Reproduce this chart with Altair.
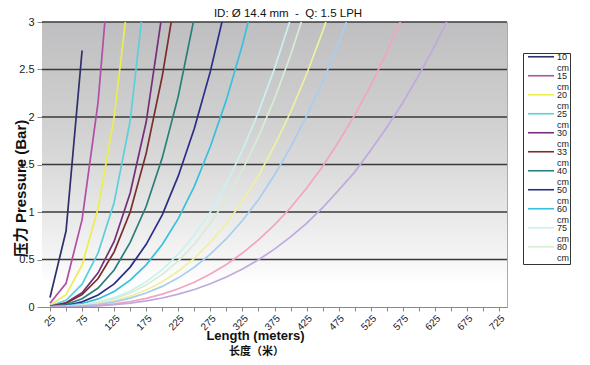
import altair as alt
import pandas as pd

lengths = list(range(25, 750, 25))

series = ["10 cm", "15 cm", "20 cm", "25 cm", "30 cm", "33 cm", "40 cm", "50 cm",
          "60 cm", "75 cm", "80 cm", "90 cm", "100 cm", "120 cm", "150 cm"]

colors = ["#2e2f6b", "#b04fa7", "#eded4f", "#5ccfdc", "#74307a", "#7b2c2c", "#2a7f7a",
          "#2b2e86", "#38c0dc", "#c9f1f1", "#d6ecd6", "#f0f0a0", "#a9cdee", "#f2a5c0", "#bfa9de"]

p10 = [0.1, 0.8, 2.7]
p15 = [0.04, 0.25, 0.92, 2.16, 4.17]
p20 = [0.02, 0.13, 0.44, 1.04, 2.0, 3.43]
p25 = [0.01, 0.07, 0.24, 0.57, 1.1, 1.96, 3.45]
p30 = [0.006, 0.045, 0.15, 0.36, 0.69, 1.2, 1.95, 3.1, 4.2]
p33 = [0.005, 0.04, 0.13, 0.3, 0.58, 1.0, 1.62, 2.43, 3.45]
p40 = [0.003, 0.026, 0.087, 0.2, 0.39, 0.68, 1.06, 1.57, 2.22, 3.05]
p50 = [0.002, 0.016, 0.054, 0.126, 0.243, 0.42, 0.66, 0.97, 1.38, 1.88, 2.48, 3.2]
p60 = [0.001, 0.011, 0.036, 0.085, 0.164, 0.282, 0.444, 0.658, 0.93, 1.27, 1.69, 2.18,
       2.76, 3.43]
p75 = [0.001, 0.007, 0.022, 0.051, 0.098, 0.168, 0.265, 0.393, 0.556, 0.758, 1.0, 1.3,
       1.65, 2.05, 2.51, 3.03]
p80 = [0.001, 0.006, 0.019, 0.044, 0.086, 0.147, 0.232, 0.343, 0.485, 0.66, 0.88, 1.14,
       1.44, 1.79, 2.19, 2.65, 3.17]
p90 = [0.001, 0.004, 0.015, 0.034, 0.066, 0.114, 0.179, 0.265, 0.376, 0.512, 0.68, 0.88,
       1.11, 1.38, 1.7, 2.05, 2.45, 2.9, 3.4]
p100 = [0.0005, 0.004, 0.012, 0.028, 0.054, 0.093, 0.147, 0.217, 0.307, 0.419, 0.556,
        0.719, 0.91, 1.13, 1.39, 1.68, 2.01, 2.37, 2.78, 3.24]
p120 = [0.0003, 0.002, 0.0075, 0.0175, 0.034, 0.058, 0.091, 0.135, 0.192, 0.261, 0.347,
        0.448, 0.568, 0.706, 0.865, 1.045, 1.25, 1.48, 1.74, 2.02, 2.33, 2.68, 3.06]
p150 = [0.0002, 0.0016, 0.0053, 0.0123, 0.024, 0.041, 0.064, 0.095, 0.135, 0.184, 0.244,
        0.316, 0.40, 0.497, 0.609, 0.738, 0.88, 1.045, 1.23, 1.42, 1.65, 1.89, 2.15, 2.44,
        2.75, 3.09]

values = [p10, p15, p20, p25, p30, p33, p40, p50, p60, p75, p80, p90, p100, p120, p150]

grid_levels = [0.5, 1, 1.5, 2, 2.5, 3]
y_ticks = [0, 0.5, 1, 1.5, 2, 2.5, 3]
title_text = "ID: Ø 14.4 mm\u00a0\u00a0-\u00a0\u00a0Q: 1.5 LPH"

rows = []
for name, vals in zip(series, values):
    for L, p in zip(lengths, vals):
        rows.append({"series": name, "length": L, "pressure": p})
df = pd.DataFrame(rows)
grid_df = pd.DataFrame({"pressure": grid_levels})

FONT = "Liberation Sans, Noto Sans CJK SC, sans-serif"

bg_gradient = alt.LinearGradient(
    gradient="linear", x1=0, y1=0, x2=0, y2=1,
    stops=[
        alt.GradientStop(offset=0, color="#bfbfc1"),
        alt.GradientStop(offset=0.35, color="#d0d0d0"),
        alt.GradientStop(offset=0.5, color="#dadada"),
        alt.GradientStop(offset=0.67, color="#e8e8e8"),
        alt.GradientStop(offset=0.83, color="#f5f5f5"),
        alt.GradientStop(offset=0.92, color="#ffffff"),
    ],
)

background = alt.Chart(pd.DataFrame({"k": [0]})).mark_rect(
    fill=bg_gradient, strokeWidth=0
).encode(
    x=alt.value(0), x2=alt.value("width"), y=alt.value(0), y2=alt.value("height")
)

gridlines = alt.Chart(grid_df).mark_rule(color="#3a3a3a", strokeWidth=1.5).encode(
    y=alt.Y("pressure:Q")
)

x_enc = alt.X(
    "length:Q",
    scale=alt.Scale(domain=[12.5, 737.5], nice=False, zero=False),
    axis=alt.Axis(
        values=lengths, labelAngle=-45, labelFontSize=10, labelColor="#222",
        grid=False, domainColor="#888", tickColor="#888", tickSize=4,
        title="Length (meters)", titleFontSize=13, titleFontWeight="bold",
        titleColor="#111", titlePadding=-2, titleX=213, titleAlign="center",
        labelFont=FONT, titleFont=FONT,
    ),
)
y_enc = alt.Y(
    "pressure:Q",
    scale=alt.Scale(domain=[0, 3], nice=False),
    axis=alt.Axis(
        values=y_ticks, format="~g", labelFontSize=11,
        labelColor="#222", grid=False,
        domainColor="#888", tickColor="#888", tickSize=5, labelPadding=3,
        title="压力   Pressure (Bar)", titleFontSize=15, titleFontWeight="bold",
        titleColor="#111", titleAngle=-90, titleX=-22, titleY=166,
        titleAlign="center", titleBaseline="middle", labelFont=FONT, titleFont=FONT,
    ),
)

lines = alt.Chart(df).mark_line(clip=True, strokeWidth=1.7).encode(
    x=x_enc,
    y=y_enc,
    color=alt.Color(
        "series:N",
        scale=alt.Scale(domain=series, range=colors),
        legend=alt.Legend(
            values=series[:11], title=None, orient="none", legendX=481, legendY=31,
            symbolType="M-0.4,-0.65H4.8", symbolSize=100, symbolStrokeWidth=1.6,
            labelExpr="[split(datum.label, ' ')[0], 'cm']", labelFontSize=9,
            labelBaseline="alphabetic", labelColor="#222", labelFont=FONT,
            strokeColor="#333", fillColor="white", padding=1, rowPadding=-7,
            labelOffset=21,
        ),
    ),
)

cn_axis = alt.Chart(df).mark_line(opacity=0).encode(
    x=alt.X(
        "length:Q",
        scale=alt.Scale(domain=[12.5, 737.5], nice=False, zero=False),
        axis=alt.Axis(
            orient="bottom", labels=False, ticks=False, domain=False, grid=False,
            title="长度（米）", titleFontSize=11, titleFontWeight="bold",
            titleColor="#111", titlePadding=38, titleX=214, titleAlign="center",
            titleFont=FONT,
        ),
    ),
    y=alt.Y("pressure:Q"),
)

title_layer = alt.Chart(pd.DataFrame({"t": [title_text]})).mark_text(
    fontSize=11.5, font=FONT, color="#111", align="center", baseline="middle"
).encode(x=alt.value(246), y=alt.value(-8), text="t:N")

chart = (
    alt.layer(background, gridlines, lines, cn_axis, title_layer)
    .resolve_axis(x="independent")
    .properties(
        width=465,
        height=285,
        autosize=alt.AutoSizeParams(type="none"),
        padding={"left": 34, "top": 14, "right": 75, "bottom": 50},
    )
    .configure_view(stroke="#aaa")
)

chart.save("out.html", embed_options={"renderer": "svg", "actions": False})
